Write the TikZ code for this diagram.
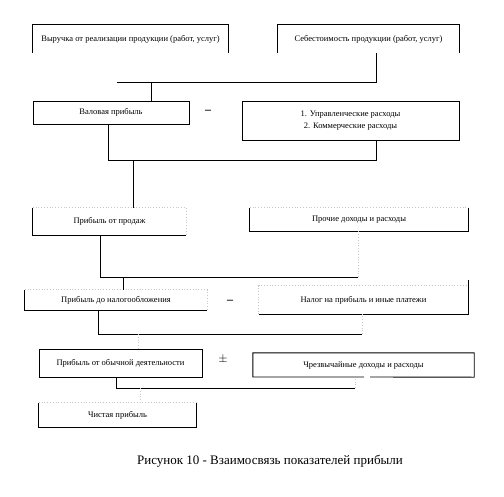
\documentclass[tikz,border=0pt]{standalone}
\usepackage{fontspec}
\setmainfont{Liberation Serif}
\begin{document}
\begin{tikzpicture}[x=1pt, y=-1pt,
    box/.style={inner sep=0pt, font=\fontsize{8.5}{12}\selectfont, align=center},
    edge/.style={line width=0.9pt},
    faint/.style={line width=0.8pt, black!22, dotted},
    sign/.style={font=\fontsize{12}{14}\bfseries\selectfont}]
  \useasboundingbox (0,0) rectangle (504,496);

  % Top row
  \node[box, minimum width=195pt, minimum height=28pt] (vyr) at (130.5,39) {Выручка от реализации продукции (работ, услуг)};
  \node[box, minimum width=181pt, minimum height=28pt] (seb) at (368.5,39) {Себестоимость продукции (работ, услуг)};
  \draw[edge] (vyr.south west) |- (vyr.north east) -- (vyr.south east);
  \draw[edge] (seb.south west) |- (seb.north east) -- (seb.south east);

  % Gross profit
  \node[box, draw, edge, minimum width=156pt, minimum height=23pt] (val) at (111,112.5) {Валовая прибыль};
  \node[sign] (minus1) at (208,112) {--};
  \node[box, draw, edge, minimum width=217pt, minimum height=39pt] (upr) at (350.5,120.5) {1. Управленческие расходы\\2. Коммерческие расходы};

  \coordinate (bus1l) at (117,82); \coordinate (bus1r) at (376,82); \coordinate (t1) at (151,82);
  \draw[edge] (bus1r |- seb.south) -- (bus1r) -- (bus1l);
  \draw[edge] (t1) -- (t1 |- val.north);

  % Sales profit
  \node[box, minimum width=153pt, minimum height=27pt] (prod) at (109.5,221.5) {Прибыль от продаж};
  \node[box, minimum width=218pt, minimum height=23pt] (proch) at (359,219.5) {Прочие доходы и расходы};
  \draw[edge] (prod.north west) -- (prod.south west) -- (prod.south east);
  \draw[faint] (prod.north west) -- (prod.north east) -- (prod.south east);
  \draw[edge] (proch.north west) -- (proch.south west) -- (proch.south east) -- (proch.north east);
  \draw[faint] (proch.north west) -- (proch.north east);

  \coordinate (bus2l) at (108,160); \coordinate (bus2r) at (376,160); \coordinate (t2) at (133,160);
  \draw[edge] (bus2l |- val.south) -- (bus2l) -- (bus2r) -- (bus2r |- upr.south);
  \draw[edge] (t2) -- (t2 |- prod.north);

  % Profit before tax
  \node[box, minimum width=182pt, minimum height=20pt] (pdn) at (116,300) {Прибыль до налогообложения};
  \node[sign] (minus2) at (230,302) {--};
  \node[box, minimum width=209pt, minimum height=28pt] (nal) at (363.5,300) {Налог на прибыль и иные платежи};
  \draw[edge] (pdn.north west) -- (pdn.south west) -- (pdn.south east);
  \draw[faint] (pdn.north west) -- (pdn.north east) -- (pdn.south east);
  \draw[edge] (nal.south west) -- (nal.south east) -- ([yshift=6pt]nal.north east);
  \draw[faint] (nal.south west) |- (nal.north east);

  \coordinate (bus3l) at (100,277); \coordinate (bus3r) at (358,277); \coordinate (t3) at (123,277);
  \draw[edge] (bus3l |- prod.south) -- (bus3l) -- (bus3r);
  \draw[faint] (bus3r) -- (bus3r |- proch.south);
  \draw[edge] (t3) -- (t3 |- pdn.north);

  % Ordinary activity
  \node[box, draw, edge, minimum width=163pt, minimum height=28pt] (obych) at (120.5,363) {Прибыль от обычной деятельности};
  \node[sign] (pm) at (223,359) {$\pm$};
  \node[box, minimum width=221pt, minimum height=24pt] (chrez) at (363.5,365) {Чрезвычайные доходы и расходы};
  \draw[edge] (364,377) -| (chrez.north west) -| (chrez.south east) -- (370,377);

  \coordinate (bus4l) at (98,334); \coordinate (bus4r) at (362,334); \coordinate (t4) at (138,334);
  \draw[edge] (bus4l |- pdn.south) -- (bus4l) -- (bus4r);
  \draw[faint] (bus4r) -- (bus4r |- nal.south);
  \draw[faint] (t4) -- (t4 |- obych.north);

  % Net profit
  \node[box, minimum width=157pt, minimum height=24pt] (chist) at (117.5,415) {Чистая прибыль};
  \draw[edge] (chist.north west) |- (chist.south east) -- (chist.north east);
  \draw[faint] (chist.north west) -- (chist.north east);

  \coordinate (bus5l) at (116,388); \coordinate (bus5r) at (355,388); \coordinate (t5) at (140,388);
  \draw[edge] (bus5l |- obych.south) -- (bus5l) -- (bus5r);
  \draw[faint] (bus5r) -- (bus5r |- chrez.south);
  \draw[faint] (t5) -- (t5 |- chist.north);

  % Caption
  \node[font=\fontsize{13}{15}\selectfont] (cap) at (270,461) {Рисунок 10 - Взаимосвязь показателей прибыли};
\end{tikzpicture}
\end{document}
